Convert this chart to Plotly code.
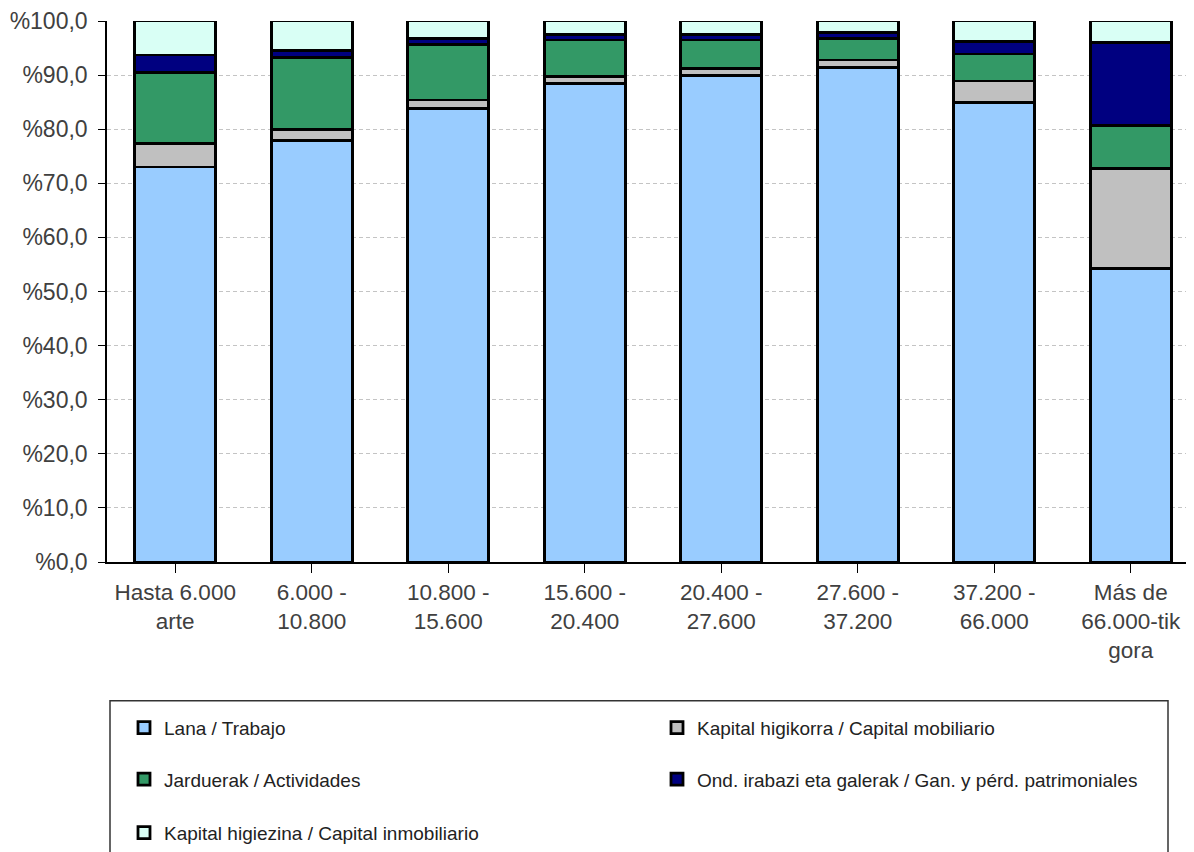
import plotly.graph_objects as go

categories = ["Hasta 6.000<br>arte", "6.000 -<br>10.800", "10.800 -<br>15.600",
              "15.600 -<br>20.400", "20.400 -<br>27.600", "27.600 -<br>37.200",
              "37.200 -<br>66.000", "Más de<br>66.000-tik<br>gora"]

lana = [73.0, 77.9, 83.9, 88.5, 90.0, 91.4, 85.0, 54.3]
kapital_mob = [4.4, 2.0, 1.5, 1.3, 1.2, 1.4, 3.9, 18.5]
jarduerak = [13.1, 13.4, 10.3, 6.7, 5.3, 3.9, 5.0, 7.9]
ondare = [3.2, 1.3, 1.0, 1.0, 1.0, 1.2, 2.3, 15.4]
kapital_hig = [6.3, 5.4, 3.3, 2.5, 2.5, 2.1, 3.8, 3.9]

y_tickvals = [0, 10, 20, 30, 40, 50, 60, 70, 80, 90, 100]
y_ticktext = ["%0,0", "%10,0", "%20,0", "%30,0", "%40,0", "%50,0",
              "%60,0", "%70,0", "%80,0", "%90,0", "%100,0"]

series = [
    ("Lana / Trabajo", lana, "#99CCFF", "legend"),
    ("Kapital higikorra / Capital mobiliario", kapital_mob, "#C0C0C0", "legend"),
    ("Jarduerak / Actividades", jarduerak, "#339966", "legend2"),
    ("Ond. irabazi eta galerak / Gan. y pérd. patrimoniales", ondare, "#000080", "legend2"),
    ("Kapital higiezina / Capital inmobiliario", kapital_hig, "#D9FFF5", "legend3"),
]

FONT = "Liberation Sans, Arial, sans-serif"

fig = go.Figure()
xs = list(range(len(categories)))
for name, vals, color, lg in series:
    fig.add_trace(go.Bar(
        x=xs, y=vals, name=name, legend=lg,
        marker=dict(color=color, line=dict(color="#000000", width=2.8)),
    ))

# page has an 8px body margin: work in page pixels and convert
OFF = 8
W, H = 1194 - OFF, 852 - OFF
L, R, T, B = 107 - OFF, 0, 21 - OFF, H - (562 - OFF)
plot_h = H - T - B
plot_w = W - L - R


def py(page_y):
    return (H - B - (page_y - OFF)) / plot_h


def pxx(page_x):
    return (page_x - OFF - L) / plot_w


leg_common = dict(orientation="h", xanchor="left", yanchor="middle",
                  x=pxx(124), entrywidth=488, entrywidthmode="pixels",
                  traceorder="normal",
                  font=dict(family=FONT, size=19, color="#222222"),
                  bgcolor="rgba(0,0,0,0)", borderwidth=0)

fig.update_layout(
    width=W, height=H,
    margin=dict(l=L, r=R, t=T, b=B, autoexpand=False),
    paper_bgcolor="white", plot_bgcolor="white",
    barmode="stack", bargap=0.407,
    font=dict(family=FONT, size=22, color="#404040"),
    xaxis=dict(
        range=[-0.5, -0.5 + plot_w / 136.5],
        tickmode="array", tickvals=xs, ticktext=categories,
        tickson="boundaries", ticks="outside", ticklen=9, tickcolor="#000000",
        tickwidth=1.2,
        showline=True, linecolor="#000000", linewidth=1.5,
        showgrid=False, zeroline=False,
        tickfont=dict(family=FONT, size=22.5, color="#404040"),
    ),
    yaxis=dict(
        range=[0, 100], tickmode="array",
        tickvals=y_tickvals, ticktext=y_ticktext,
        ticks="outside", ticklen=7, tickcolor="#000000", tickwidth=1.2,
        showline=True, linecolor="#000000", linewidth=1.5,
        showgrid=True, gridcolor="#C4C4C4", griddash="4px,3px", gridwidth=1,
        zeroline=False,
        tickfont=dict(family=FONT, size=23, color="#404040"),
        ticklabelstandoff=6,
    ),
    legend=dict(y=py(727.7), **leg_common),
    legend2=dict(y=py(779.3), **leg_common),
    legend3=dict(y=py(832.7), **leg_common),
    shapes=[dict(type="rect", xref="paper", yref="paper",
                 x0=pxx(110), x1=pxx(1168), y0=py(700.7), y1=py(880),
                 line=dict(color="#333333", width=1.5), fillcolor="rgba(0,0,0,0)",
                 layer="below")],
)

fig.write_html("out.html")
